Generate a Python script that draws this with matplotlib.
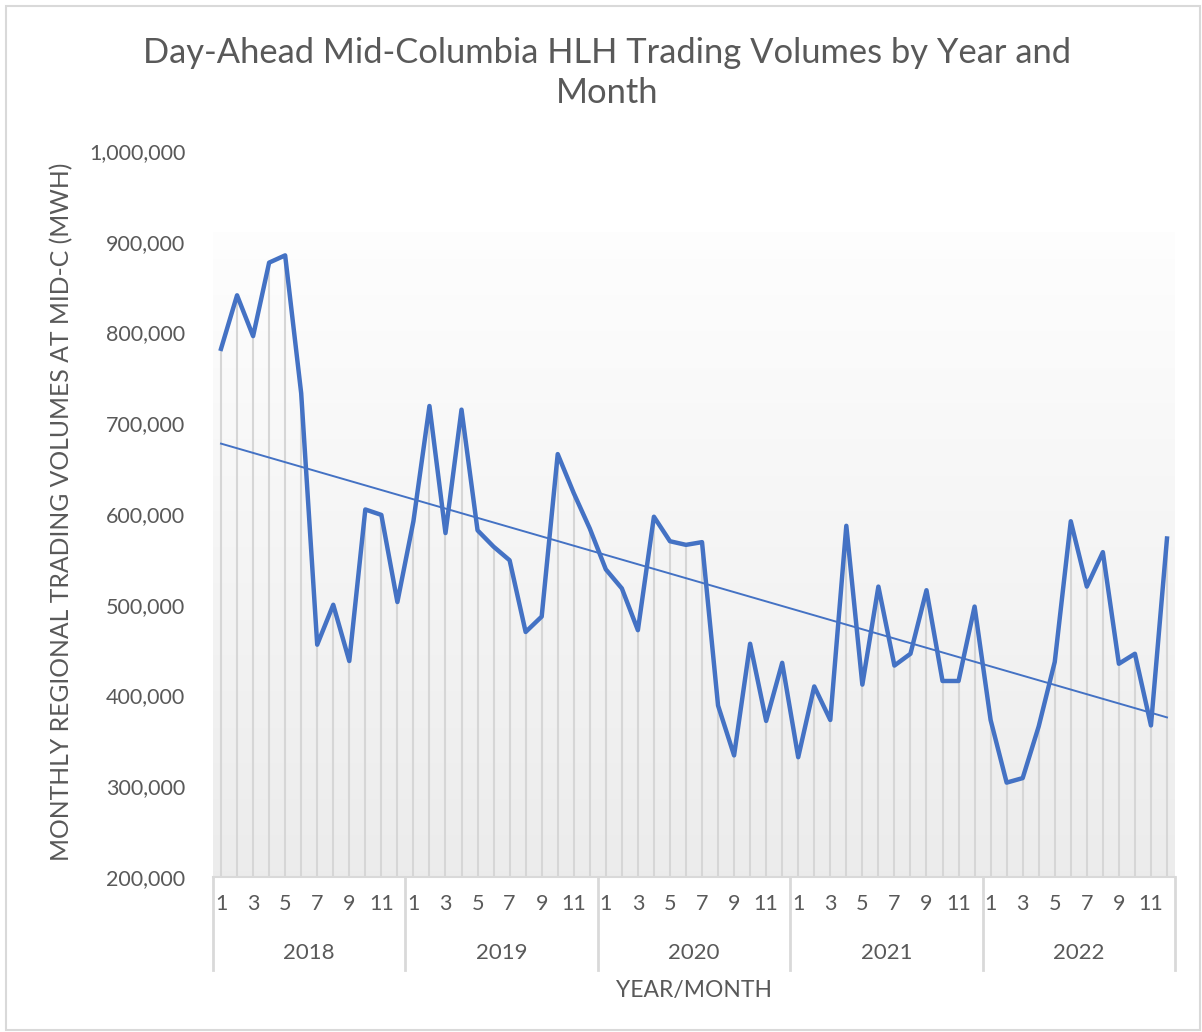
import numpy as np
import matplotlib
matplotlib.use('Agg')
import matplotlib.pyplot as plt
from matplotlib.patches import Rectangle
from matplotlib.ticker import FuncFormatter
import matplotlib.transforms as mtransforms

plt.rcParams['font.family'] = ['Lato', 'DejaVu Sans']

# monthly volumes (MWh), Jan 2018 .. Dec 2022
years = [2018, 2019, 2020, 2021, 2022]
volumes = [
    782000, 841000, 796000, 877000, 885000, 733000, 456000, 500000, 438000, 605000, 599000, 503000,
    592000, 719000, 579000, 715000, 582000, 564000, 549000, 470000, 487000, 666000, 623000, 584000,
    539000, 518000, 472000, 597000, 570000, 566000, 569000, 389000, 334000, 457000, 372000, 436000,
    332000, 410000, 373000, 587000, 412000, 520000, 433000, 446000, 516000, 416000, 416000, 498000,
    373000, 304000, 309000, 366000, 437000, 592000, 520000, 558000, 435000, 446000, 367000, 573000,
]
month_labels = ['1', '', '3', '', '5', '', '7', '', '9', '', '11', '']

blue = '#4472C4'
grey_txt = '#595959'

x = np.arange(len(volumes))
y = np.array(volumes)

fig = plt.figure(figsize=(12.02, 10.32), dpi=100)
ax = fig.add_axes([213 / 1202, 1 - 877 / 1032, 962 / 1202, 726 / 1032])

# gradient plot-area fill
grad = np.linspace(1, 0, 256).reshape(-1, 1)
top_c = np.array([0.995, 0.995, 0.995])
bot_c = np.array([0.925, 0.925, 0.925])
img = grad[..., None] * top_c + (1 - grad[..., None]) * bot_c
ax.imshow(img, extent=[-0.5, len(volumes) - 0.5, 200000, 910000], aspect='auto', zorder=0)

# drop lines
ax.vlines(x, 200000, y, color='#d6d6d6', lw=1.5, zorder=1)

ax.plot(x, y, color=blue, lw=3.2, zorder=3, solid_joinstyle='round')

# linear trend
coef = np.polyfit(x, y, 1)
ax.plot(x, np.polyval(coef, x), color=blue, lw=1.4, zorder=2)

ax.set_xlim(-0.5, len(volumes) - 0.5)
ax.set_ylim(200000, 1000000)
ax.set_yticks(np.arange(200000, 1000001, 100000))
ax.yaxis.set_major_formatter(FuncFormatter(lambda v, p: f'{int(v):,}'))
ax.tick_params(axis='y', length=0, pad=20, labelsize=15.5, labelcolor=grey_txt)

ax.set_xticks(x)
ax.set_xticklabels(month_labels * len(years))
ax.tick_params(axis='x', length=0, pad=12, labelsize=15.5, labelcolor=grey_txt)

for s in ['top', 'right', 'left']:
    ax.spines[s].set_visible(False)
ax.spines['bottom'].set_color('#d9d9d9')
ax.spines['bottom'].set_linewidth(1.5)

# year level of the category axis
trans = mtransforms.blended_transform_factory(ax.transData, ax.transAxes)
for i, yr in enumerate(years):
    ax.text(i * 12 + 5.5, -76 / 726, str(yr), transform=trans, ha='center', va='center',
            fontsize=16, color=grey_txt)
for i in range(len(years) + 1):
    xb = i * 12 - 0.5
    ax.plot([xb, xb], [0, -93 / 726], transform=trans, color='#d9d9d9', lw=2, clip_on=False)

ax.text(0.5, -114 / 726, 'YEAR/MONTH', transform=ax.transAxes, ha='center', va='center',
        fontsize=16.5, color=grey_txt)

fig.text(62 / 1202, 1 - 512 / 1032, 'MONTHLY REGIONAL TRADING VOLUMES AT MID-C (MWH)',
         rotation=90, ha='center', va='center', fontsize=17.8, color=grey_txt)

fig.text(607 / 1202, 1 - 73 / 1032, 'Day-Ahead Mid-Columbia HLH Trading Volumes by Year and\nMonth',
         ha='center', va='center', fontsize=24.8, color=grey_txt, linespacing=1.3)

fig.patches.append(Rectangle((6 / 1202, 2 / 1032), 1194 / 1202, 1024 / 1032, transform=fig.transFigure,
                             fill=False, edgecolor='#d9d9d9', lw=1.5))

fig.savefig('out.png', dpi=100)
